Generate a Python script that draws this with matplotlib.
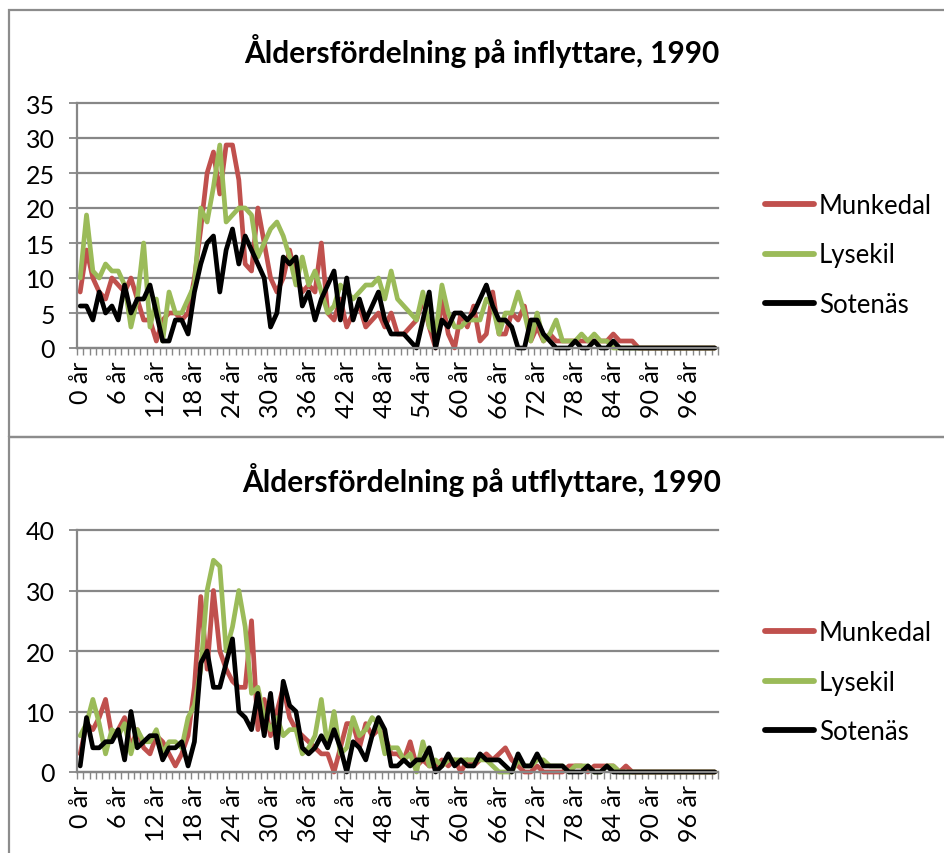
import matplotlib
matplotlib.use("Agg")
import matplotlib.pyplot as plt
from matplotlib.patches import Rectangle

plt.rcParams['font.family'] = ['Lato', 'DejaVu Sans']

ages = list(range(101))
tick_ages = list(range(0, 97, 6))
tick_labels = [f"{a} år" for a in tick_ages]
series_names = ["Munkedal", "Lysekil", "Sotenäs"]
colors = ["#C0504D", "#9BBB59", "#000000"]

# Inflyttare 1990
in_munkedal = [8, 14, 10, 8, 7, 10, 9, 8, 10, 7, 4, 4, 1, 4, 5, 5, 4, 5, 10, 17,
               25, 28, 22, 29, 29, 24, 12, 11, 20, 15, 10, 8, 10, 14, 10, 8, 9, 8, 15, 5,
               4, 7, 3, 5, 6, 3, 4, 5, 3, 5, 2, 2, 3, 4, 7, 3, 0, 7, 2, 0,
               5, 3, 6, 1, 2, 8, 2, 2, 5, 4, 6, 1, 3, 1, 2, 1, 1, 1, 1, 1,
               1, 1, 1, 1, 2, 1, 1, 1, 0, 0, 0, 0, 0, 0, 0, 0, 0, 0, 0, 0, 0]
in_lysekil = [10, 19, 11, 10, 12, 11, 11, 9, 3, 7, 15, 3, 7, 1, 8, 5, 5, 7, 9, 20,
              18, 23, 29, 18, 19, 20, 20, 19, 13, 15, 17, 18, 16, 13, 9, 13, 9, 11, 8, 5,
              6, 9, 8, 7, 8, 9, 9, 10, 7, 11, 7, 6, 5, 4, 8, 3, 2, 9, 5, 3,
              3, 4, 4, 4, 7, 6, 2, 5, 5, 8, 5, 1, 5, 1, 2, 4, 1, 1, 1, 2,
              1, 2, 1, 1, 0, 0, 0, 0, 0, 0, 0, 0, 0, 0, 0, 0, 0, 0, 0, 0, 0]
in_sotenas = [6, 6, 4, 8, 5, 6, 4, 9, 5, 7, 7, 9, 5, 1, 1, 4, 4, 2, 8, 12,
              15, 16, 8, 14, 17, 12, 16, 14, 12, 10, 3, 5, 13, 12, 13, 6, 8, 4, 7, 9,
              11, 4, 10, 4, 7, 4, 6, 8, 4, 2, 2, 2, 1, 0, 4, 8, 0, 4, 3, 5,
              5, 4, 5, 7, 9, 6, 4, 4, 3, 0, 0, 4, 4, 2, 1, 0, 0, 0, 1, 0,
              0, 1, 0, 0, 1, 0, 0, 0, 0, 0, 0, 0, 0, 0, 0, 0, 0, 0, 0, 0, 0]

# Utflyttare 1990
ut_munkedal = [3, 8, 7, 9, 12, 6, 7, 9, 4, 7, 4, 3, 6, 5, 3, 1, 3, 6, 14, 29,
               17, 30, 20, 17, 15, 14, 14, 25, 7, 12, 6, 10, 14, 9, 7, 6, 5, 4, 3, 3,
               0, 4, 8, 8, 4, 8, 6, 7, 6, 3, 3, 2, 5, 1, 2, 1, 1, 2, 1, 2,
               0, 2, 1, 2, 3, 2, 3, 4, 2, 1, 0, 0, 1, 0, 0, 0, 0, 1, 1, 1,
               0, 1, 1, 1, 1, 0, 1, 0, 0, 0, 0, 0, 0, 0, 0, 0, 0, 0, 0, 0, 0]
ut_lysekil = [6, 8, 12, 8, 3, 7, 6, 8, 3, 7, 5, 5, 7, 3, 5, 5, 4, 9, 11, 17,
              30, 35, 34, 20, 24, 30, 24, 13, 14, 9, 7, 9, 6, 7, 7, 3, 4, 6, 12, 4,
              10, 3, 4, 9, 6, 7, 9, 8, 3, 4, 4, 2, 3, 0, 5, 1, 2, 1, 2, 2,
              2, 2, 2, 2, 2, 1, 0, 0, 0, 2, 1, 1, 2, 2, 1, 1, 1, 0, 1, 1,
              1, 0, 0, 1, 1, 0, 0, 0, 0, 0, 0, 0, 0, 0, 0, 0, 0, 0, 0, 0, 0]
ut_sotenas = [1, 9, 4, 4, 5, 5, 7, 2, 10, 4, 5, 6, 6, 2, 4, 4, 5, 1, 5, 18,
              20, 14, 14, 18, 22, 10, 9, 7, 13, 6, 13, 4, 15, 11, 10, 4, 3, 4, 6, 4,
              7, 4, 0, 5, 4, 2, 6, 9, 7, 1, 1, 2, 1, 2, 2, 4, 0, 1, 3, 1,
              2, 1, 1, 3, 2, 2, 2, 1, 0, 3, 1, 1, 3, 1, 1, 1, 1, 0, 0, 0,
              1, 0, 0, 1, 0, 0, 0, 0, 0, 0, 0, 0, 0, 0, 0, 0, 0, 0, 0, 0, 0]

W, H = 944, 854
fig = plt.figure(figsize=(W / 100, H / 100), dpi=100)
fig.patch.set_facecolor("white")

GRAY = "#878787"
FRAME = "#8c8c8c"


def px_rect(x0, y0, x1, y1):
    return [x0 / W, 1 - y1 / H, (x1 - x0) / W, (y1 - y0) / H]


# chart frames
fig.add_artist(Rectangle((9 / W, 1 - 438 / H), 1.2, (438 - 11) / H, transform=fig.transFigure,
                         fill=False, edgecolor=FRAME, linewidth=1.6))
fig.add_artist(Rectangle((9 / W, -0.2), 1.2, 0.2 + 1 - 438 / H, transform=fig.transFigure,
                         fill=False, edgecolor=FRAME, linewidth=1.6))


def make_chart(top, bottom, ymax, ystep, data, title, title_y, legend_y):
    ax = fig.add_axes(px_rect(77, top, 718, bottom))
    ax.set_xlim(-0.5, 100.5)
    ax.set_ylim(0, ymax)
    for vals, name, c in zip(data, series_names, colors):
        ax.plot(ages, vals, color=c, linewidth=3.4, label=name,
                solid_joinstyle="round", solid_capstyle="round", clip_on=False)
    ax.set_yticks(range(0, ymax + 1, ystep))
    ax.yaxis.grid(True, color=GRAY, linewidth=1.6)
    for gl in ax.get_ygridlines():
        gl.set_clip_on(False)
    ax.set_axisbelow(True)
    for s in ["top", "right"]:
        ax.spines[s].set_visible(False)
    for s in ["left", "bottom"]:
        ax.spines[s].set_color(GRAY)
        ax.spines[s].set_linewidth(1.6)
    ax.tick_params(axis="y", length=6, width=1.3, color=GRAY, pad=10,
                   labelsize=18, labelcolor="black")
    ax.set_xticks(tick_ages)
    ax.set_xticklabels(tick_labels, rotation=90, fontsize=18)
    ax.set_xticks([i - 0.5 for i in range(102)], minor=True)
    ax.tick_params(axis="x", which="major", length=0, pad=9)
    ax.tick_params(axis="x", which="minor", length=5, width=1.0, color=GRAY)
    fig.text(482 / W, 1 - title_y / H, title, ha="center", va="center",
             fontsize=21.5, fontweight="bold")
    leg = ax.legend(loc="center left", bbox_to_anchor=(752 / W, 1 - legend_y / H),
                    bbox_transform=fig.transFigure, frameon=False, fontsize=18.5,
                    handlelength=1.9, handletextpad=0.2, labelspacing=0.95,
                    borderpad=0)
    for ln in leg.get_lines():
        ln.set_linewidth(4.2)
    return ax


make_chart(104, 349, 35, 5, [in_munkedal, in_lysekil, in_sotenas],
           "Åldersfördelning på inflyttare, 1990", 51, 256)
make_chart(531, 773, 40, 10, [ut_munkedal, ut_lysekil, ut_sotenas],
           "Åldersfördelning på utflyttare, 1990", 480, 683)

fig.savefig("out.png", dpi=100, facecolor="white")
